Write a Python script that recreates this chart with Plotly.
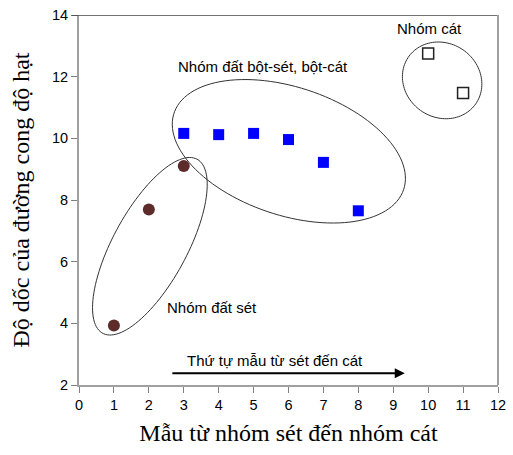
import numpy as np
import plotly.graph_objects as go

# Sample groups: x = sample index (clay -> sand), y = slope of grading curve
clay_x = [1, 2, 3]
clay_y = [3.93, 7.69, 9.10]

silt_x = [3, 4, 5, 6, 7, 8]
silt_y = [10.16, 10.12, 10.16, 9.96, 9.22, 7.65]

sand_x = [10, 11]
sand_y = [12.75, 11.47]

x_ticks = list(range(0, 13))
y_ticks = [2, 4, 6, 8, 10, 12, 14]

W, H = 513, 455
M = dict(l=79, r=15, t=15, b=70)
X_RANGE = (0, 12)
Y_RANGE = (2, 14)
px_x = (W - M["l"] - M["r"]) / (X_RANGE[1] - X_RANGE[0])
px_y = (H - M["t"] - M["b"]) / (Y_RANGE[1] - Y_RANGE[0])

# Group outlines: centre (data units), semi-axes (screen px), tilt (deg)
groups = [
    dict(cx=2.03, cy=6.50, a=99, b=37, angle=61.5),
    dict(cx=6.01, cy=9.58, a=121, b=64, angle=-18.4),
    dict(cx=10.40, cy=11.88, a=41, b=37, angle=-35),
]


def ellipse_path(cx, cy, a, b, angle, n=120):
    th = np.radians(angle)
    t = np.linspace(0, 2 * np.pi, n)
    dx = a * np.cos(t) * np.cos(th) - b * np.sin(t) * np.sin(th)
    dy = a * np.cos(t) * np.sin(th) + b * np.sin(t) * np.cos(th)
    xs = cx + dx / px_x
    ys = cy + dy / px_y
    pts = [f"{x:.4f},{y:.4f}" for x, y in zip(xs, ys)]
    return "M " + " L ".join(pts) + " Z"


fig = go.Figure()

fig.add_trace(go.Scatter(
    x=clay_x, y=clay_y, mode="markers",
    marker=dict(symbol="circle", size=12, color="#5e2b2b"),
    name="Nhóm đất sét", showlegend=False))

fig.add_trace(go.Scatter(
    x=silt_x, y=silt_y, mode="markers",
    marker=dict(symbol="square", size=11, color="#0000ff"),
    name="Nhóm đất bột-sét, bột-cát", showlegend=False))

fig.add_trace(go.Scatter(
    x=sand_x, y=sand_y, mode="markers",
    marker=dict(symbol="square", size=11, color="white",
                line=dict(color="#222222", width=1.5)),
    name="Nhóm cát", showlegend=False))

shapes = []
for g in groups:
    shapes.append(dict(type="path", path=ellipse_path(**g),
                       xref="x", yref="y",
                       line=dict(color="#333333", width=1)))

# frame: dark top edge, grey right edge
shapes.append(dict(type="line", xref="paper", yref="y", x0=-0.018, x1=1,
                   y0=14, y1=14, line=dict(color="#444444", width=1.3)))
shapes.append(dict(type="line", xref="paper", yref="paper", x0=1, x1=1,
                   y0=0, y1=1, line=dict(color="#a0a0a0", width=2)))

font_sans = "Liberation Sans, Arial, sans-serif"
font_serif = "Liberation Serif, Times New Roman, serif"

annotations = [
    dict(x=10.05, y=13.55, text="Nhóm cát", showarrow=False),
    dict(x=5.26, y=12.32, text="Nhóm đất bột-sét, bột-cát", showarrow=False),
    dict(x=3.82, y=4.52, text="Nhóm đất sét", showarrow=False),
    dict(x=5.61, y=2.80, text="Thứ tự mẫu từ sét đến cát", showarrow=False),
    dict(x=9.33, y=2.38, ax=2.63, ay=2.38, axref="x", ayref="y",
         text="", showarrow=True, arrowhead=2, arrowsize=1.0,
         arrowwidth=2, arrowcolor="black"),
]
for a in annotations:
    a.update(xref="x", yref="y", font=dict(family=font_sans, size=15, color="black"))

fig.update_layout(
    width=W, height=H, margin=M,
    paper_bgcolor="white", plot_bgcolor="white",
    shapes=shapes, annotations=annotations,
    xaxis=dict(
        range=list(X_RANGE), tickvals=x_ticks, showgrid=False, zeroline=False,
        automargin=False,
        showline=True, linecolor="#a0a0a0", linewidth=2,
        ticks="outside", ticklen=6, tickcolor="#808080", tickwidth=1,
        tickfont=dict(family=font_sans, size=14.5, color="black"),
        title=dict(text="Mẫu từ nhóm sét đến nhóm cát",
                   font=dict(family=font_serif, size=24, color="black"),
                   standoff=12),
    ),
    yaxis=dict(
        range=list(Y_RANGE), tickvals=y_ticks, showgrid=False, zeroline=False,
        automargin=False,
        showline=True, linecolor="#a0a0a0", linewidth=2,
        ticks="outside", ticklen=6, tickcolor="#808080", tickwidth=1,
        tickfont=dict(family=font_sans, size=14.5, color="black"),
        title=dict(text="Độ dốc của đường cong độ hạt",
                   font=dict(family=font_serif, size=24, color="black"),
                   standoff=16),
    ),
)

fig.write_html("out.html")
